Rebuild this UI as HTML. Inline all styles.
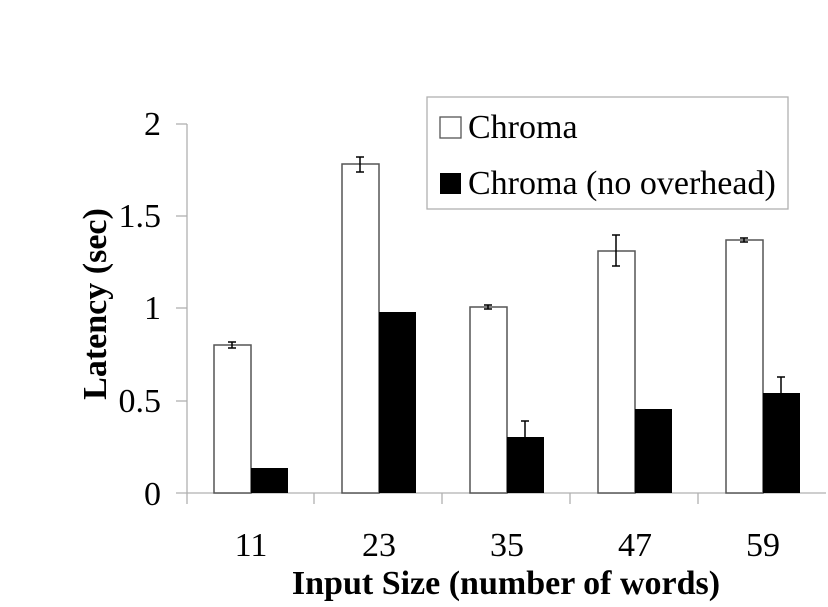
<!DOCTYPE html><html><head><style>body{margin:0;background:#fff}</style></head><body>
<svg width="828" height="602" xmlns="http://www.w3.org/2000/svg" font-family="'Liberation Serif', serif">
<g stroke="#b0b0b0" stroke-width="1.3" fill="none">
<line x1="187" y1="124" x2="187" y2="493"/>
<line x1="176" y1="493" x2="826" y2="493"/>
<line x1="176" y1="124" x2="187" y2="124"/><line x1="176" y1="216" x2="187" y2="216"/>
<line x1="176" y1="308" x2="187" y2="308"/><line x1="176" y1="401" x2="187" y2="401"/>
<line x1="187" y1="493" x2="187" y2="504"/><line x1="314" y1="493" x2="314" y2="504"/>
<line x1="442" y1="493" x2="442" y2="504"/><line x1="570" y1="493" x2="570" y2="504"/>
<line x1="698" y1="493" x2="698" y2="504"/>
</g>
<g font-size="34" text-anchor="end" fill="#000">
<text x="161" y="135">2</text><text x="161" y="227">1.5</text><text x="161" y="319">1</text><text x="161" y="412">0.5</text><text x="161" y="505">0</text>
</g>
<g font-size="34" text-anchor="middle" fill="#000">
<text x="251" y="556">11</text><text x="379" y="556">23</text><text x="507" y="556">35</text><text x="635" y="556">47</text><text x="763" y="556">59</text>
</g>
<text x="506" y="594" font-size="34" font-weight="bold" text-anchor="middle">Input Size (number of words)</text>
<text transform="translate(106,304) rotate(-90)" font-size="34" font-weight="bold" text-anchor="middle">Latency (sec)</text>
<g stroke="#555" stroke-width="1.5">
<rect x="214" y="345" width="37" height="148" fill="#fff"/>
<rect x="342" y="164" width="37" height="329" fill="#fff"/>
<rect x="470" y="307" width="37" height="186" fill="#fff"/>
<rect x="598" y="251" width="37" height="242" fill="#fff"/>
<rect x="726" y="240" width="37" height="253" fill="#fff"/>
</g>
<g fill="#000">
<rect x="251" y="468" width="37" height="25"/>
<rect x="379" y="312" width="37" height="181"/>
<rect x="507" y="437" width="37" height="56"/>
<rect x="635" y="409" width="37" height="84"/>
<rect x="763" y="393" width="37" height="100"/>
</g>
<g stroke="#000" stroke-width="1.5">
<path d="M232 342V348M228 342H236M228 348H236"/>
<path d="M360 157V172M356 157H364M356 172H364"/>
<path d="M488 305V309M484 305H492M484 309H492"/>
<path d="M616 235V266M612 235H620M612 266H620"/>
<path d="M744 238V242M740 238H748M740 242H748"/>
<path d="M525 421V437M521 421H529"/>
<path d="M781 377V393M777 377H785"/>
</g>
<rect x="427" y="97" width="361" height="112" fill="#fff" stroke="#b0b0b0" stroke-width="1.3"/>
<rect x="440" y="117" width="21" height="21" fill="#fff" stroke="#555" stroke-width="1.3"/>
<rect x="440" y="173" width="21" height="21" fill="#000"/>
<text x="468" y="138" font-size="34">Chroma</text>
<text x="468" y="194" font-size="34">Chroma (no overhead)</text>
</svg>
</body></html>
